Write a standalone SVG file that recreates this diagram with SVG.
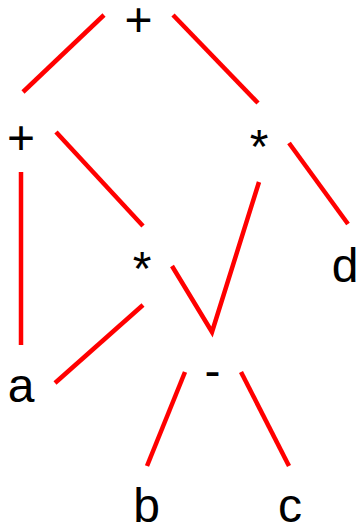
<svg xmlns="http://www.w3.org/2000/svg" width="359" height="525" viewBox="0 0 359 525">
<style>
.e{stroke:#ff0000;stroke-width:4.5;fill:none}
.t{font-family:"Liberation Sans",Arial,sans-serif;font-size:48px;fill:#000;text-anchor:middle}
</style>
<rect width="359" height="525" fill="#fff"/>
<g id="connectors">
<line class="e" x1="104" y1="15" x2="23" y2="92"/>
<line class="e" x1="173" y1="15" x2="258" y2="103"/>
<line class="e" x1="21" y1="172" x2="21" y2="345"/>
<line class="e" x1="56" y1="132" x2="143" y2="226"/>
<line class="e" x1="289" y1="143" x2="348" y2="224"/>
<polyline class="e" points="172,266 212,332 259,182"/>
<line class="e" x1="143" y1="305" x2="55" y2="383"/>
<line class="e" x1="185" y1="372" x2="147" y2="466"/>
<line class="e" x1="241" y1="372" x2="289" y2="466"/>
</g>
<g id="n-plus-root"><text class="t" x="138.5" y="36">+</text></g>
<g id="n-plus-left"><text class="t" x="21" y="153.5">+</text></g>
<g id="n-times-right"><text class="t" x="259" y="163">*</text></g>
<g id="n-times-mid"><text class="t" x="142" y="285">*</text></g>
<g id="n-minus"><text class="t" x="212.5" y="387">-</text></g>
<g id="n-a"><text class="t" x="21" y="402">a</text></g>
<g id="n-b"><text class="t" x="146.5" y="522">b</text></g>
<g id="n-c"><text class="t" x="290" y="522">c</text></g>
<g id="n-d"><text class="t" x="345" y="282">d</text></g>
</svg>
